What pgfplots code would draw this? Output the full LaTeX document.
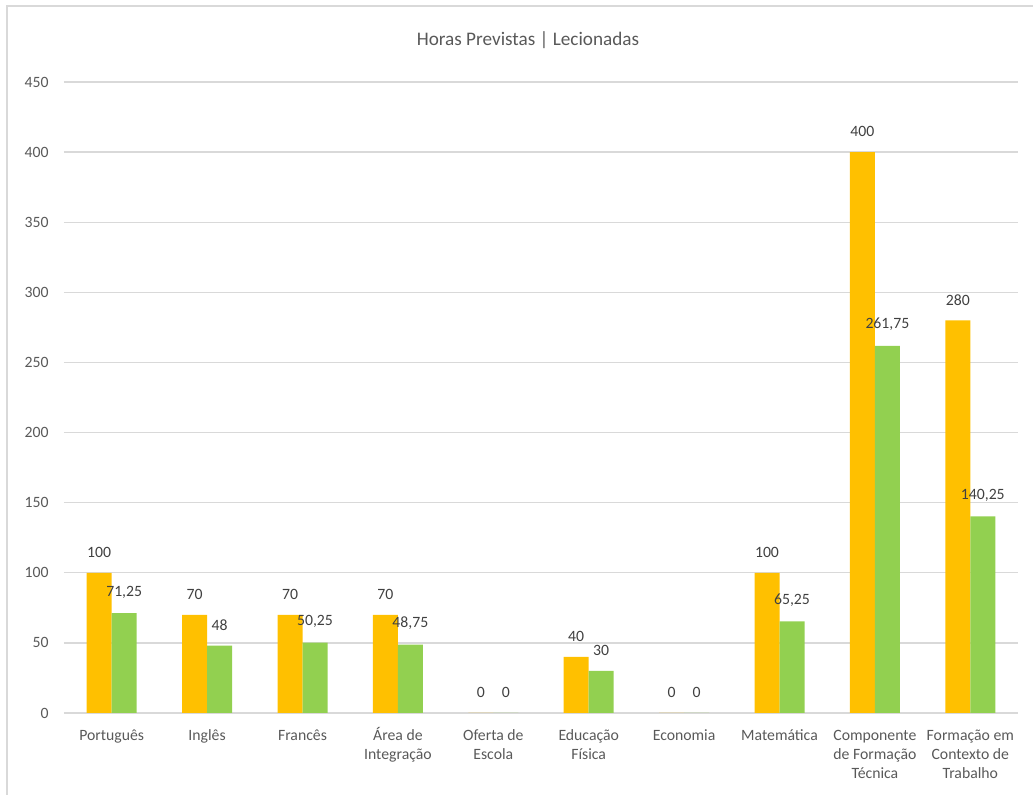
\documentclass[border=0pt]{standalone}
\usepackage{pgfplots}
\pgfplotsset{compat=1.18}
\usepackage{fontspec}
\setmainfont{Carlito}
\definecolor{cOr}{HTML}{FFC000}
\definecolor{cGr}{HTML}{92D050}
\definecolor{cGrid}{HTML}{D9D9D9}
\definecolor{cTick}{HTML}{595959}
\definecolor{cLab}{HTML}{404040}
\begin{document}
\begin{tikzpicture}
\path[use as bounding box] (-48pt,-61.5pt) rectangle (726.75pt,534.75pt);
\draw[cGrid, line width=1pt] (-42.75pt,-61.5pt) -- (-42.75pt,530.25pt) -- (726.75pt,530.25pt);
\node[font=\fontsize{14.4}{17}\selectfont, text=cTick] at (348pt,504.75pt) {Horas Previstas | Lecionadas};
\begin{axis}[
  at={(0,0)}, anchor=south west,
  scale only axis, width=715.5pt, height=473.25pt,
  xmin=-0.5, xmax=9.5, ymin=0, ymax=450,
  ytick={0,50,...,450},
  xtick={0,...,9},
  xticklabels={Português,Inglês,Francês,{\smash{Á}rea de\\Integração},{Oferta de\\Escola},{Educação\\Física},Economia,Matemática,{Componente\\de Formação\\Técnica},{Formação em\\Contexto de\\Trabalho}},
  xticklabel style={align=center, font=\fontsize{11.8}{14.25}\selectfont, text=cTick, yshift=-9.25pt},
  yticklabel style={font=\fontsize{11.8}{14}\selectfont, text=cTick, xshift=-8pt},
  /pgf/number format/assume math mode=true,
  /pgf/number format/use comma,
  axis line style={draw=none},
  major tick length=0pt,
  ymajorgrids, grid style={cGrid, line width=1pt},
  ybar=0pt, bar width=18.75pt,
  nodes near coords,
  nodes near coords style={font=\fontsize{11.8}{14}\selectfont, text=cLab, yshift=7.75pt, /pgf/number format/assume math mode=true, /pgf/number format/use comma},
  clip=false,
]
\addplot[fill=cOr, draw=none] coordinates {(0,100) (1,70) (2,70) (3,70) (4,0) (5,40) (6,0) (7,100) (8,400) (9,280)};
\addplot[fill=cGr, draw=none] coordinates {(0,71.25) (1,48) (2,50.25) (3,48.75) (4,0) (5,30) (6,0) (7,65.25) (8,261.75) (9,140.25)};
\end{axis}
\end{tikzpicture}
\end{document}
